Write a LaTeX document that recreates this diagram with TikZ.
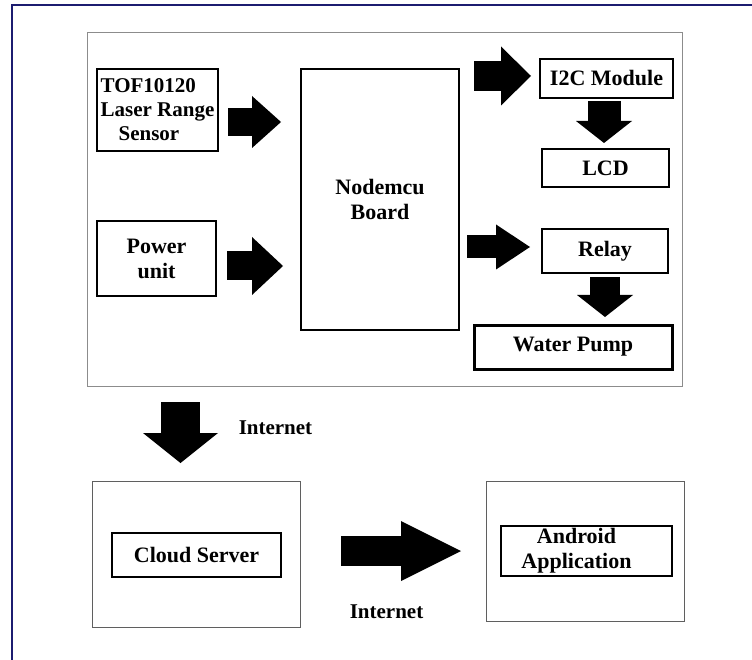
\documentclass[tikz,border=0pt]{standalone}
\usepackage{fontspec}
\setmainfont{Liberation Serif}
\usetikzlibrary{arrows.meta}
\definecolor{framenavy}{RGB}{28,28,112}
\definecolor{boxgray}{RGB}{140,140,140}
\definecolor{outergray}{RGB}{95,95,95}

\begin{document}
\begin{tikzpicture}[x=1pt, y=-1pt,
    blk/.style={draw, line width=2pt, inner sep=0pt, align=center,
      font=\bfseries\fontsize{22}{25}\selectfont},
    lbl/.style={inner sep=0pt, font=\bfseries\fontsize{21}{24}\selectfont},
    fatarrow/.style n args={3}{line width=#1pt,
      -{Triangle[width=#2pt, length=#3pt, line width=0pt]}}]
    \useasboundingbox (0,0) rectangle (752,660);
    \draw[framenavy, line width=2pt] (12,670) -- (12,5) -- (760,5);

    \draw[boxgray, line width=1pt] (87,33) rectangle (682,386);
    \draw[outergray, line width=1pt] (92,481) rectangle (300,627);
    \draw[outergray, line width=1pt] (486,481) rectangle (684,621);

    \node[blk, minimum width=121pt, minimum height=82pt, align=left,
      font=\bfseries\fontsize{21}{24}\selectfont] (tof) at (157.5,110)
      {TOF10120\\Laser Range\\\hspace*{18pt}Sensor};
    \node[blk, minimum width=119pt, minimum height=75pt] (power) at (156.5,258.5) {Power\\unit};
    \node[blk, minimum width=158pt, minimum height=261pt] (mcu) at (380,199.5) {Nodemcu\\Board};
    \node[blk, minimum width=133pt, minimum height=39pt] (i2c) at (606.5,78.5) {I2C Module};
    \node[blk, minimum width=127pt, minimum height=38pt] (lcd) at (605.5,168) {LCD};
    \node[blk, minimum width=126pt, minimum height=44pt] (relay) at (605,251) {Relay};
    \node[blk, line width=3pt, minimum width=198pt, minimum height=44pt] (pump) at (573,347) {Water Pump};
    \node[blk, minimum width=169pt, minimum height=44pt] (cloud) at (196.5,555) {Cloud Server};
    \node[blk, minimum width=171pt, minimum height=50pt] (android) at (586.5,551)
      {Android\hspace*{20pt}\\Application\hspace*{20pt}};

    \node[lbl] (net1) at (275.5,428) {Internet};
    \node[lbl] (net2) at (386.5,612) {Internet};

    \coordinate (a1s) at (228,122); \coordinate (a1e) at (281,122);
    \coordinate (a2s) at (227,266); \coordinate (a2e) at (283,266);
    \coordinate (a3s) at (474,76);  \coordinate (a3e) at (531,76);
    \coordinate (a4s) at (467,247); \coordinate (a4e) at (530,247);
    \coordinate (a5s) at (604,101); \coordinate (a5e) at (604,143);
    \coordinate (a6s) at (605,277); \coordinate (a6e) at (605,317);
    \coordinate (a7s) at (180.5,402); \coordinate (a7e) at (180.5,463);
    \coordinate (a8s) at (341,551); \coordinate (a8e) at (461,551);

    \draw[fatarrow={28}{52}{29}] (a1s) -- (a1e);
    \draw[fatarrow={29}{58}{31}] (a2s) -- (a2e);
    \draw[fatarrow={30}{59}{30}] (a3s) -- (a3e);
    \draw[fatarrow={23}{45}{34}] (a4s) -- (a4e);
    \draw[fatarrow={33}{56}{22}] (a5s) -- (a5e);
    \draw[fatarrow={30}{56}{22}] (a6s) -- (a6e);
    \draw[fatarrow={39}{75}{30}] (a7s) -- (a7e);
    \draw[fatarrow={30}{60}{60}] (a8s) -- (a8e);
\end{tikzpicture}
\end{document}
